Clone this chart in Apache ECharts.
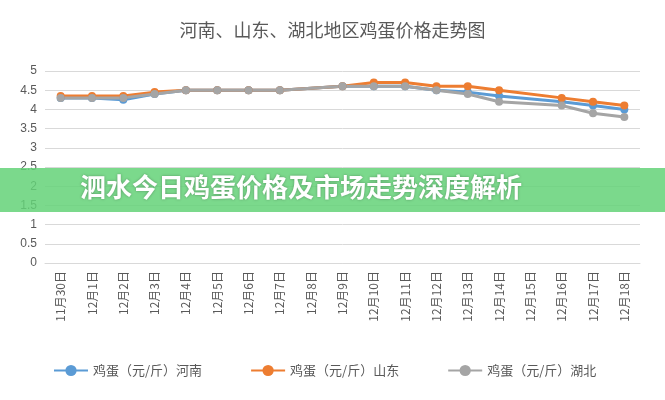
<!DOCTYPE html>
<html><head><meta charset="utf-8">
<script src="https://cdn.jsdelivr.net/npm/echarts@6/dist/echarts.min.js"></script>
<style>body{margin:0}#c{width:665px;height:400px}</style></head>
<body><div id="c"></div>
<script>
var days = ['11月30日','12月1日','12月2日','12月3日','12月4日','12月5日','12月6日','12月7日','12月8日','12月9日',
  '12月10日','12月11日','12月12日','12月13日','12月14日','12月15日','12月16日','12月17日','12月18日'];
var henan = [4.3,4.3,4.25,4.4,4.5,4.5,4.5,4.5,null,4.6,4.6,4.6,4.5,4.45,4.35,null,4.2,4.1,4.0];
var shandong = [4.35,4.35,4.35,4.45,4.5,4.5,4.5,4.5,null,4.6,4.7,4.7,4.6,4.6,4.5,null,4.3,4.2,4.1];
var hubei = [4.3,4.3,4.3,4.4,4.5,4.5,4.5,4.5,null,4.6,4.6,4.6,4.5,4.4,4.2,null,4.1,3.9,3.8];

var chart = echarts.init(document.getElementById('c'));
function s(name, data, color) {
  return {name: name, type: 'line', data: data, connectNulls: true, symbol: 'circle', symbolSize: 8,
    lineStyle: {width: 3, color: color}, itemStyle: {color: color}};
}
chart.setOption({
  animation: false,
  title: {text: '河南、山东、湖北地区鸡蛋价格走势图', left: 'center', top: 16,
    textStyle: {fontFamily: 'Noto Sans CJK SC', fontWeight: 'normal', fontSize: 18, color: '#595959'}},
  legend: {bottom: 18, left: 48, itemWidth: 34, itemGap: 48,
    textStyle: {fontSize: 13, color: '#595959', fontFamily: 'Noto Sans CJK SC'}},
  grid: {left: 45, right: 25, top: 71, bottom: 137, containLabel: false},
  xAxis: {type: 'category', data: days, boundaryGap: true,
    axisLine: {lineStyle: {color: '#d9d9d9'}}, axisTick: {show: false},
    axisLabel: {rotate: 90, fontSize: 12, color: '#595959', fontFamily: 'Noto Sans CJK SC'}},
  yAxis: {type: 'value', min: 0, max: 5, interval: 0.5,
    axisLabel: {fontSize: 12, color: '#595959'},
    splitLine: {lineStyle: {color: '#d9d9d9'}}},
  series: [s('鸡蛋（元/斤）河南', henan, '#5b9bd5'), s('鸡蛋（元/斤）山东', shandong, '#ed7d31'),
    s('鸡蛋（元/斤）湖北', hubei, '#a5a5a5')],
  graphic: [
    {type: 'rect', shape: {x: 0, y: 168, width: 665, height: 44}, style: {fill: 'rgba(100,210,120,0.85)'}, z: 100},
    {type: 'text', left: 80, top: 174, z: 101,
      style: {text: '泗水今日鸡蛋价格及市场走势深度解析', fill: '#fff', fontSize: 26, fontWeight: 'bold',
        fontFamily: 'Noto Sans CJK SC', textShadowColor: 'rgba(0,0,0,0.3)', textShadowBlur: 3}}
  ]
});
</script></body></html>
